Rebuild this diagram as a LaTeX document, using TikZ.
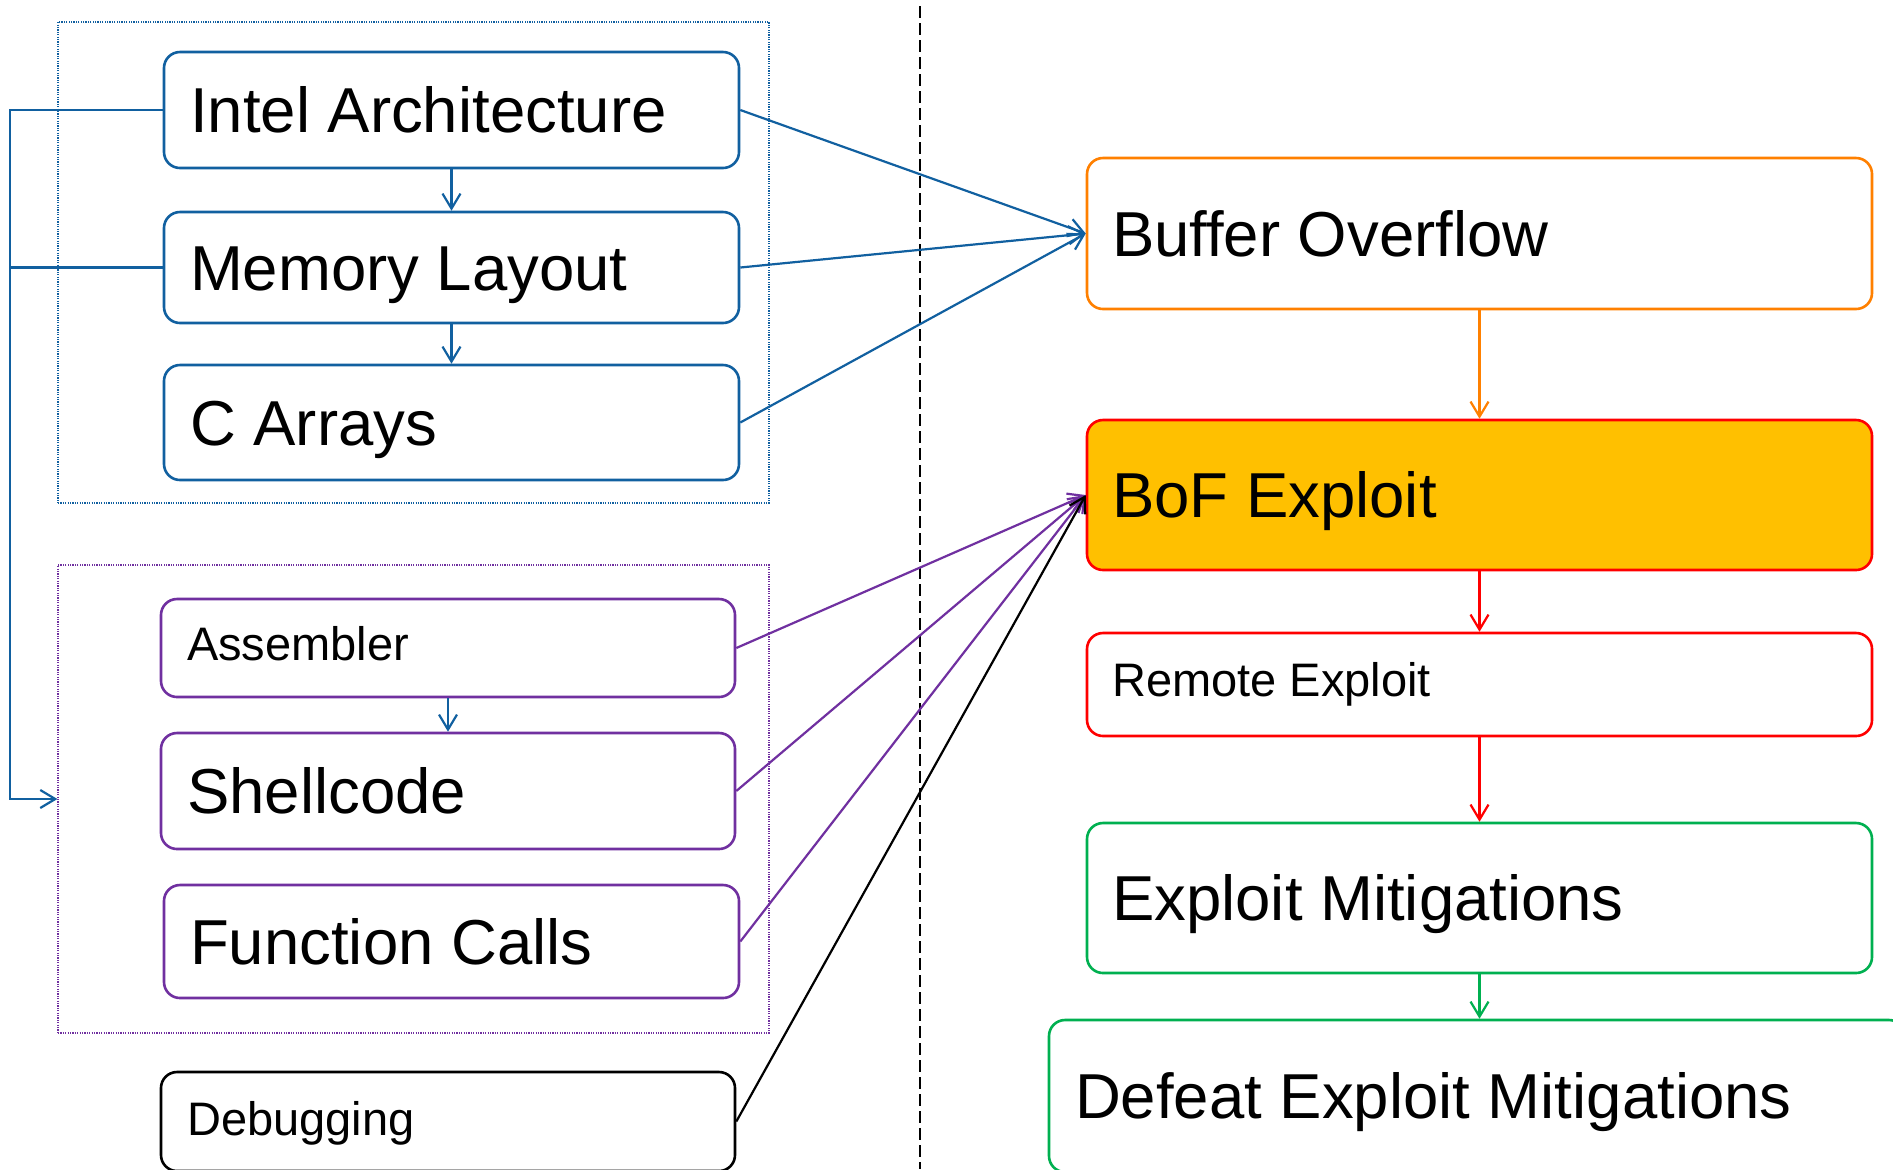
\documentclass[tikz,border=0pt]{standalone}
\usepackage{fontspec}
\setmainfont{Liberation Sans}
\usetikzlibrary{arrows.meta,fit}
\definecolor{cblue}{RGB}{17,96,160}
\definecolor{cpurple}{RGB}{112,48,160}
\definecolor{corange}{RGB}{255,128,0}
\definecolor{cred}{RGB}{255,0,0}
\definecolor{cgreen}{RGB}{0,176,80}
\definecolor{cgold}{RGB}{255,192,0}
\begin{document}
\begin{tikzpicture}[x=0.5pt,y=-0.5pt,
  box/.style={draw, rounded corners=8pt, line width=1.3pt, inner sep=0pt},
  grp/.style={draw, line width=0.6pt, dash pattern=on 0.6pt off 0.6pt, inner sep=0pt},
  bigtxt/.style={anchor=base west, inner sep=0pt, font=\fontsize{31.75}{36}\selectfont},
  smalltxt/.style={anchor=base west, inner sep=0pt, font=\fontsize{23.5}{28}\selectfont},
  conn/.style={line width=1.1pt, -{Straight Barb[length=7.5pt,width=9pt]}},
]
\useasboundingbox (0,0) rectangle (1893,1169);
\clip (0,0) rectangle (1893,1169);
\fill[white] (0,0) rectangle (1893,1169);

% separator
\coordinate (dtop) at (920,6);
\coordinate (dbot) at (920,1169);
\draw[black, line width=0.7pt, dash pattern=on 6pt off 2.5pt] (dtop) -- (dbot);

% groups
\node[grp, draw=cblue, fit={(58,22)(769,503)}] (g1) {};
\node[grp, draw=cpurple, fit={(58,565)(769,1033)}] (g2) {};

% left boxes
\node[box, draw=cblue, fit={(164,52)(739,168)}] (intel) {};
\node[bigtxt] (intel-t) at ([xshift=13.5pt,yshift=-11.35pt]intel.west) {Intel Architecture};
\node[box, draw=cblue, fit={(164,212)(739,323)}] (mem) {};
\node[bigtxt] (mem-t) at ([xshift=13.5pt,yshift=-11.35pt]mem.west) {Memory Layout};
\node[box, draw=cblue, fit={(164,365)(739,480)}] (carr) {};
\node[bigtxt] (carr-t) at ([xshift=13.5pt,yshift=-11.35pt]carr.west) {C Arrays};

\node[box, draw=cpurple, fit={(161,599)(735,697)}] (asm) {};
\node[smalltxt] (asm-t) at ([xshift=13.5pt,yshift=-6.2pt]asm.west) {Assembler};
\node[box, draw=cpurple, fit={(161,733)(735,849)}] (shell) {};
\node[bigtxt] (shell-t) at ([xshift=13.5pt,yshift=-11.35pt]shell.west) {Shellcode};
\node[box, draw=cpurple, fit={(164,885)(739,998)}] (func) {};
\node[bigtxt] (func-t) at ([xshift=13.5pt,yshift=-11.35pt]func.west) {Function Calls};

\node[box, draw=black, fit={(161,1072)(735,1171)}] (debug) {};
\node[smalltxt] (debug-t) at ([xshift=13.5pt,yshift=-6.8pt]debug.west) {Debugging};

% right boxes
\node[box, draw=corange, fit={(1087,158)(1872,309)}] (bo) {};
\node[bigtxt] (bo-t) at ([xshift=13pt,yshift=-11.35pt]bo.west) {Buffer Overflow};
\node[box, draw=cred, fill=cgold, fit={(1087,420)(1872,570)}] (bof) {};
\node[bigtxt] (bof-t) at ([xshift=13pt,yshift=-11.35pt]bof.west) {BoF Exploit};
\node[box, draw=cred, fit={(1087,633)(1872,736)}] (remote) {};
\node[smalltxt] (remote-t) at ([xshift=13pt,yshift=-6.2pt]remote.west) {Remote Exploit};
\node[box, draw=cgreen, fit={(1087,823)(1872,973)}] (em) {};
\node[bigtxt] (em-t) at ([xshift=13pt,yshift=-11.35pt]em.west) {Exploit Mitigations};
\node[box, draw=cgreen, fit={(1049,1020)(1905,1172)}] (defeat) {};
\node[bigtxt] (defeat-t) at ([xshift=13.5pt,yshift=-11.35pt]defeat.west) {Defeat Exploit Mitigations};

% connectors
\draw[conn, cblue] (intel.south) -- (mem.north);
\draw[conn, cblue] (mem.south) -- (carr.north);
\draw[conn, cblue] (asm.south) -- (shell.north);
\draw[conn, cblue] (intel.east) -- (bo.west);
\draw[conn, cblue] (mem.east) -- (bo.west);
\draw[conn, cblue] (carr.east) -- (bo.west);
\draw[conn, cpurple] (asm.east) -- (bof.west);
\draw[conn, cpurple] (shell.east) -- (bof.west);
\draw[conn, cpurple] (func.east) -- (bof.west);
\draw[conn, black] (debug.east) -- (bof.west);
\draw[conn, corange] (bo.south) -- (bof.north);
\draw[conn, cred] (bof.south) -- (remote.north);
\draw[conn, cred] (remote.south) -- (em.north);
\draw[conn, cgreen] (em.south) -- (em.south |- defeat.north);

% left bracket
\coordinate (bx) at (10,0);
\draw[conn, cblue] (intel.west) -- (intel.west -| bx) |- (g2.west);
\draw[line width=1.1pt, cblue] (mem.west) -- (mem.west -| bx);
\end{tikzpicture}
\end{document}
